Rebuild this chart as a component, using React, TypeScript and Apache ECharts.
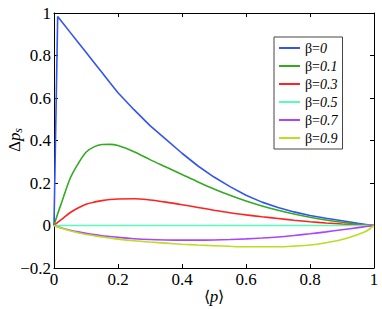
import React, { useEffect, useRef } from "react";
import * as echarts from "echarts";

const xValues = [0, 0.0115, 0.025, 0.05, 0.075, 0.1, 0.125, 0.15, 0.175, 0.2, 0.25, 0.3, 0.35, 0.4, 0.45, 0.5, 0.55, 0.6, 0.65, 0.7, 0.75, 0.8, 0.85, 0.9, 0.95, 0.975, 1];
const beta0 = [0, 0.983, 0.958, 0.91, 0.862, 0.815, 0.767, 0.72, 0.672, 0.625, 0.545, 0.47, 0.405, 0.34, 0.28, 0.228, 0.183, 0.142, 0.11, 0.085, 0.064, 0.047, 0.034, 0.022, 0.01, 0.005, 0];
const beta01 = [0, 0.055, 0.113, 0.22, 0.29, 0.345, 0.37, 0.381, 0.382, 0.376, 0.347, 0.31, 0.275, 0.24, 0.205, 0.172, 0.142, 0.115, 0.092, 0.072, 0.054, 0.039, 0.026, 0.015, 0.006, 0.003, 0];
const beta03 = [0, 0.015, 0.03, 0.06, 0.082, 0.1, 0.11, 0.117, 0.122, 0.125, 0.126, 0.12, 0.11, 0.098, 0.085, 0.072, 0.06, 0.05, 0.041, 0.033, 0.025, 0.018, 0.012, 0.007, 0.003, 0.0015, 0];
const beta05 = [0, 0, 0, 0, 0, 0, 0, 0, 0, 0, 0, 0, 0, 0, 0, 0, 0, 0, 0, 0, 0, 0, 0, 0, 0, 0, 0];
const beta07 = [0, -0.006, -0.012, -0.022, -0.03, -0.037, -0.043, -0.048, -0.052, -0.056, -0.062, -0.066, -0.068, -0.069, -0.069, -0.068, -0.066, -0.063, -0.059, -0.054, -0.047, -0.039, -0.03, -0.02, -0.01, -0.005, 0];
const beta09 = [0, -0.006, -0.013, -0.025, -0.034, -0.042, -0.048, -0.054, -0.059, -0.064, -0.072, -0.078, -0.083, -0.088, -0.092, -0.095, -0.098, -0.1, -0.1, -0.1, -0.097, -0.092, -0.081, -0.066, -0.042, -0.027, 0];

const seriesNames = ["β=0", "β=0.1", "β=0.3", "β=0.5", "β=0.7", "β=0.9"];
const seriesValues = [beta0, beta01, beta03, beta05, beta07, beta09];
const seriesColors = ["#3355ee", "#33aa22", "#ff2222", "#55ffbb", "#aa44ff", "#bbdd22"];

const FONT = "Liberation Serif";

function fmt(v: number) {
  if (v === 0) return "0";
  const s = String(Math.round(v * 10) / 10);
  return s.replace("-", "\u2212");
}

export default function App() {
  const ref = useRef<HTMLDivElement>(null);
  useEffect(() => {
    if (!ref.current) return;
    const chart = echarts.init(ref.current, undefined, { renderer: "svg" });
    const axisCommon = {
      axisLine: { show: true, onZero: false, lineStyle: { color: "#000", width: 1 } },
      axisTick: { show: true, inside: true, length: 4, lineStyle: { color: "#000" } },
      splitLine: { show: false },
    };
    chart.setOption({
      animation: false,
      backgroundColor: "#fff",
      grid: { left: 54, top: 13, right: 8, bottom: 41, containLabel: false, outerBoundsMode: "none" },
      graphic: [
        {
          type: "text",
          x: 14,
          y: 140,
          rotation: Math.PI / 2,
          style: {
            text: "{a|Δ}{p|p}{s|s}",
            align: "center",
            verticalAlign: "middle",
            rich: {
              a: { fontFamily: FONT, fontSize: 17, fill: "#000" },
              p: { fontFamily: FONT, fontSize: 17, fontStyle: "italic", fill: "#000" },
              s: { fontFamily: FONT, fontSize: 12, fontStyle: "italic", fill: "#000", padding: [8, 0, 0, 0] },
            },
          },
        },
        {
          type: "text",
          x: 214,
          y: 296,
          style: {
            text: "{a|⟨}{p|p}{a|⟩}",
            align: "center",
            verticalAlign: "middle",
            rich: {
              a: { fontFamily: FONT, fontSize: 16, fill: "#000" },
              p: { fontFamily: FONT, fontSize: 17, fontStyle: "italic", fill: "#000" },
            },
          },
        },
      ],
      legend: {
        orient: "vertical",
        left: 274,
        top: 37,
        width: 65,
        padding: [4, 5, 4, 5],
        itemWidth: 21,
        itemHeight: 2,
        itemGap: 4,
        icon: "rect",
        borderColor: "#444",
        borderWidth: 1,
        backgroundColor: "#fff",
        data: seriesNames,
        formatter: (name: string) => {
          const v = name.split("=")[1];
          return `{n|β=}{v|${v}}`;
        },
        textStyle: {
          fontFamily: FONT,
          fontSize: 14,
          lineHeight: 14,
          color: "#000",
          rich: {
            n: { fontFamily: FONT, fontSize: 14, color: "#000" },
            v: { fontFamily: FONT, fontSize: 14, fontStyle: "italic", color: "#000" },
          },
        },
      },
      xAxis: [
        {
          type: "value",
          min: 0,
          max: 1,
          interval: 0.2,
          position: "bottom",
          ...axisCommon,
          axisLabel: { fontFamily: FONT, fontSize: 17, color: "#000", margin: 3, formatter: fmt },
        },
        {
          type: "value",
          min: 0,
          max: 1,
          interval: 0.2,
          position: "top",
          ...axisCommon,
          axisLabel: { show: false },
        },
      ],
      yAxis: [
        {
          type: "value",
          min: -0.2,
          max: 1,
          interval: 0.2,
          position: "left",
          ...axisCommon,
          axisLabel: { fontFamily: FONT, fontSize: 17, color: "#000", margin: 3, formatter: fmt },
        },
        {
          type: "value",
          min: -0.2,
          max: 1,
          interval: 0.2,
          position: "right",
          ...axisCommon,
          axisLabel: { show: false },
        },
      ],
      series: seriesNames.map((name, i) => ({
        name,
        type: "line",
        xAxisIndex: 0,
        yAxisIndex: 0,
        symbol: "none",
        smooth: i === 0 ? false : 0.3,
        color: seriesColors[i],
        lineStyle: { color: seriesColors[i], width: 1.6 },
        data: xValues.map((x, j) => [x, seriesValues[i][j]]),
      })),
    });
    return () => chart.dispose();
  }, []);
  return <div ref={ref} style={{ width: 382, height: 309, position: "absolute", left: 0, top: 0 }} />;
}
